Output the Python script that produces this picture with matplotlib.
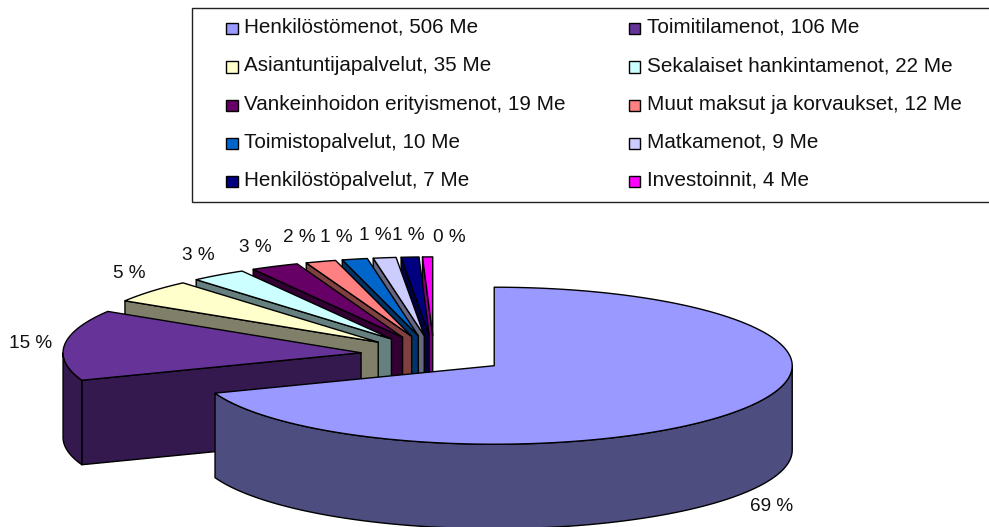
import numpy as np
import matplotlib
matplotlib.use("Agg")
import matplotlib.pyplot as plt
from matplotlib.patches import Polygon, Rectangle

plt.rcParams['font.family'] = ['Liberation Sans', 'DejaVu Sans']

names = ["Henkilöstömenot", "Toimitilamenot", "Asiantuntijapalvelut", "Sekalaiset hankintamenot",
         "Vankeinhoidon erityismenot", "Muut maksut ja korvaukset", "Toimistopalvelut", "Matkamenot",
         "Henkilöstöpalvelut", "Investoinnit"]
values = [506, 106, 35, 22, 19, 12, 10, 9, 7, 4]
pct_labels = ["69 %", "15 %", "5 %", "3 %", "3 %", "2 %", "1 %", "1 %", "1 %", "0 %"]
colors = ["#9999FF", "#663399", "#FFFFCC", "#CCFFFF", "#660066",
          "#FF8080", "#0066CC", "#CCCCFF", "#000080", "#FF00FF"]
wall_colors = ["#4D4D80", "#33194D", "#80806A", "#668080", "#330033",
               "#804040", "#003366", "#666680", "#000040", "#800080"]

# pie geometry, in pixels
cx, cy = 434, 354.7
rx, ry = 298, 78.5
explode = 0.246
depth = 84.5
lw = 1.0

# label centres next to the slices
label_x = [771.5, 31, 129.5, 198.5, 255.5, 299.5, 336, 375, 408, 449.5]
label_y = [506.5, 344, 274, 255, 247, 238, 238, 236, 236, 237]

fig = plt.figure(figsize=(9.89, 5.27), dpi=100)
ax = fig.add_axes([0, 0, 1, 1])
ax.set_xlim(0, 989)
ax.set_ylim(527, 0)
ax.axis('off')


def pt(ax0, ay0, ang):
    # angle is clockwise from the top of the pie
    return ax0 + rx * np.sin(ang), ay0 - ry * np.cos(ang)


edges = np.radians(np.cumsum([0] + values) / sum(values) * 360)

# back slices first, the big one last
for i in range(len(values) - 1, -1, -1):
    a0, a1 = edges[i], edges[i + 1]
    mid = (a0 + a1) / 2
    x0 = cx + explode * rx * np.sin(mid)
    y0 = cy - explode * ry * np.cos(mid)

    # cut face at the start of the slice, only for the left hand slices
    if i > 0:
        xs, ys = pt(x0, y0, a0)
        ax.add_patch(Polygon([(x0, y0), (xs, ys), (xs, ys + depth), (x0, y0 + depth)],
                             fc=wall_colors[i], ec='black', lw=lw, joinstyle='round'))

    # rim, the part that faces the viewer
    r0 = max(a0, np.pi / 2)
    r1 = min(a1, 3 * np.pi / 2)
    if r1 > r0:
        t = np.linspace(r0, r1, 120)
        xr, yr = pt(x0, y0, t)
        rim = np.r_[np.c_[xr, yr], np.c_[xr, yr + depth][::-1]]
        ax.add_patch(Polygon(rim, fc=wall_colors[i], ec='black', lw=lw, joinstyle='round'))

    # top face
    t = np.linspace(a0, a1, 200)
    xt, yt = pt(x0, y0, t)
    top = np.r_[[(x0, y0)], np.c_[xt, yt]]
    ax.add_patch(Polygon(top, fc=colors[i], ec='black', lw=lw, joinstyle='round'))

for i, lab in enumerate(pct_labels):
    ax.text(label_x[i], label_y[i], lab, fontsize=13.7, color='#111111', ha='center', va='center')

# legend box, runs off the right side
ax.add_patch(Rectangle((191.5, 8), 810, 193.5, fc='white', ec='#222222', lw=lw))

row_y = [26, 64.5, 103, 141, 179]
col_swatch = [226, 628.5]
col_text = [244, 647]
for i, name in enumerate(names):
    col = i % 2
    row = i // 2
    ax.add_patch(Rectangle((col_swatch[col], row_y[row] - 3.5), 11.5, 11.5,
                           fc=colors[i], ec='black', lw=lw))
    ax.text(col_text[col], row_y[row] + 1, f"{name}, {values[i]} Me", fontsize=14.85,
            color='#111111', ha='left', va='center')

fig.savefig("out.png", dpi=100)
